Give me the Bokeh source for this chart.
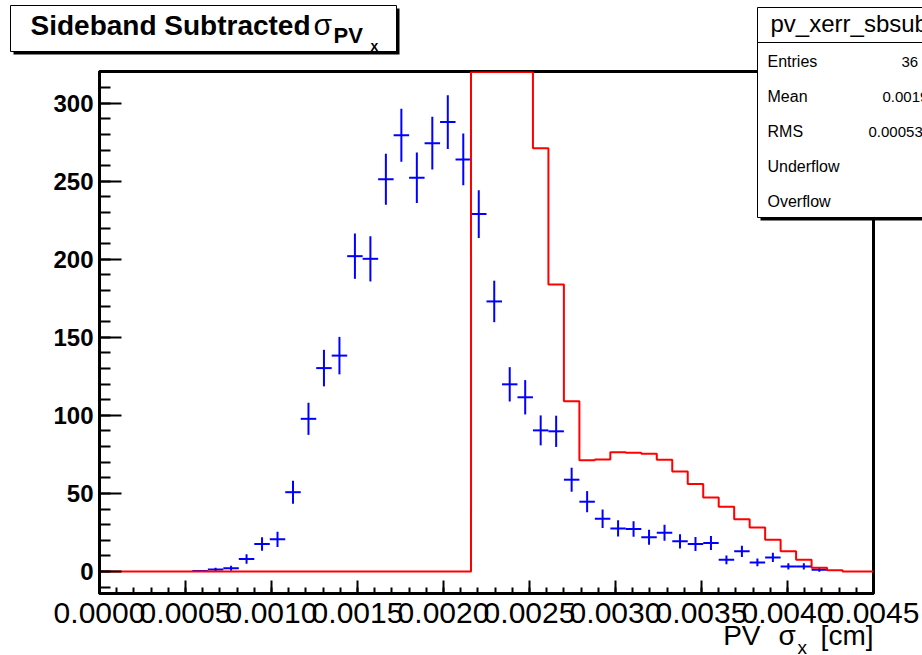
import numpy as np
from bokeh.plotting import figure
from bokeh.models import Range1d, SingleIntervalTicker, PrintfTickFormatter
from bokeh.core.properties import value
from bokeh.embed import file_html
from bokeh.resources import INLINE

# ---------------- data ----------------
x_min, x_max = 0.0, 0.0045
n_bins = 50

# sideband-subtracted histogram (blue points), bin contents and errors
sb_counts = [0, 0, 0, 0, 0, 0, 0.3, 1.2, 2.0, 8.0,
             17.6, 20.6, 50.8, 97.8, 130.3, 138.3, 202.0, 200.3, 251.3, 279.5,
             252.2, 274.4, 287.9, 264.0, 229.0, 173.0, 119.9, 111.6, 90.4, 89.8,
             58.8, 44.7, 33.8, 27.6, 27.2, 22.0, 24.8, 19.3, 17.6, 18.2,
             7.5, 12.9, 5.8, 9.0, 3.2, 3.2, 1.1, 0, 0, 0]
sb_errors = [0, 0, 0, 0, 0, 0, 0.5, 1.2, 1.6, 3.0,
             4.3, 4.9, 7.4, 10.3, 11.7, 12.0, 14.5, 14.5, 16.3, 17.0,
             16.2, 16.9, 17.2, 16.6, 15.3, 13.3, 11.0, 11.0, 9.6, 10.0,
             7.7, 6.8, 5.9, 5.2, 5.0, 4.8, 5.1, 4.6, 4.5, 4.5,
             2.8, 3.6, 2.5, 3.0, 2.0, 2.0, 1.3, 0, 0, 0]
# red reference histogram (bins 24-27 run off the top of the frame: shown at the ceiling)
ref_counts = [0, 0, 0, 0, 0, 0, 0, 0, 0, 0,
              0, 0, 0, 0, 0, 0, 0, 0, 0, 0,
              0, 0, 0, 0, 320, 320, 320, 320, 271.2, 183.9,
              109.1, 71.3, 71.7, 76.4, 76.0, 75.4, 71.6, 64.1, 56.0, 47.4,
              41.4, 33.5, 28.2, 20.3, 13.0, 7.5, 2.4, 0.8, 0, 0]

title_main = "Sideband Subtracted"
hist_name = "pv_xerr_sbsub"
stat_names = ["Entries", "Mean", "RMS", "Underflow", "Overflow"]
stat_values = ["36", "0.0019", "0.00053", "", ""]

# ---------------- figure ----------------
FL, FR, FT, FB = 99, 873, 71, 593   # frame edges in canvas pixels
W, H = 922, 655

p = figure(width=W, height=H, output_backend="svg", toolbar_location=None,
           x_range=Range1d(x_min, x_max + 1e-10), y_range=Range1d(-14.1, 320.3),
           min_border_left=FL, min_border_right=W - FR,
           min_border_top=FT, min_border_bottom=H - FB, title=None)
p.background_fill_color = "white"
p.border_fill_color = "white"
p.grid.visible = False
p.outline_line_color = "black"
p.outline_line_width = 3
# pixel ranges for decorations placed around the frame
p.extra_x_ranges = {"px": Range1d(FL, FR)}
p.extra_y_ranges = {"px": Range1d(FB, FT)}

xa = p.xaxis[0]
xa.ticker = SingleIntervalTicker(interval=0.0005, num_minor_ticks=5)
xa.formatter = PrintfTickFormatter(format="%.4f")
xa.major_tick_in, xa.major_tick_out = 13, 0
xa.minor_tick_in, xa.minor_tick_out = 6, 0
xa.major_tick_line_width = 2
xa.minor_tick_line_width = 2
xa.axis_line_width = 3
xa.major_label_text_font = "Liberation Sans"
xa.major_label_text_font_size = "30px"
xa.major_label_text_color = "black"
xa.major_label_standoff = 9

ya = p.yaxis[0]
ya.ticker = SingleIntervalTicker(interval=50, num_minor_ticks=5)
ya.formatter = PrintfTickFormatter(format="%d")
ya.major_tick_in, ya.major_tick_out = 22, 0
ya.minor_tick_in, ya.minor_tick_out = 11, 0
ya.major_tick_line_width = 2
ya.minor_tick_line_width = 2
ya.axis_line_width = 3
ya.major_label_text_font = "Liberation Sans"
ya.major_label_text_font_size = "24px"
ya.major_label_text_font_style = "bold"
ya.major_label_text_color = "black"
ya.major_label_standoff = 6

# ---------------- marks ----------------
edges = np.linspace(x_min, x_max, n_bins + 1)
centers = 0.5 * (edges[:-1] + edges[1:])
bw = edges[1] - edges[0]
sb = np.array(sb_counts, dtype=float)
se = np.array(sb_errors, dtype=float)
m = sb > 0
p.segment(x0=centers[m] - bw / 2, x1=centers[m] + bw / 2, y0=sb[m], y1=sb[m],
          line_color="#0000ff", line_width=2)
p.segment(x0=centers[m], x1=centers[m], y0=sb[m] - se[m], y1=sb[m] + se[m],
          line_color="#0000ff", line_width=2)

ref = np.array(ref_counts, dtype=float)
p.step(x=edges, y=np.append(ref, ref[-1]), mode="after",
       line_color="#ff0000", line_width=2)

# ---------------- boxes and texts (pixel ranges, overlay level) ----------------
PX = dict(x_range_name="px", y_range_name="px", level="overlay")

def box(l, t, r, b, fill, line=None, lw=1):
    p.quad(left=[l], right=[r], top=[t], bottom=[b], fill_color=fill,
           line_color=line, line_width=lw, line_alpha=1.0 if line else 0.0, **PX)

def label(cx, base, text, size, style="normal", align="left"):
    # base = wanted baseline in canvas pixels
    p.text(x=[cx], y=[base - 0.36 * size], text=[text],
           text_font=value("Liberation Sans"),
           text_font_size=value(f"{size}px"), text_font_style=value(style),
           text_color="black", text_align=value(align),
           text_baseline=value("alphabetic"), **PX)

# title box with shadow
box(13, 8, 399, 54, "black")
box(10, 5, 396, 51, "white", "black", 1)
label(30, 35, title_main, 28, "bold")
label(313, 35, "σ", 30)
label(333, 43, "PV", 22, "bold")
label(370, 51, "x", 14, "bold")

# stats box with shadow
box(760, 10, 935, 220, "black")
box(757, 7, 932, 217, "white", "black", 1)
box(757, 41.5, 932, 42.5, "black")
label(770, 32, hist_name, 24)
rows_y = [67, 102, 137, 172, 207]
val_x = [901, 882, 868, 922, 922]
for name, val, ry, vx in zip(stat_names, stat_values, rows_y, val_x):
    label(767, ry, name, 16)
    if val:
        label(vx, ry, val, 15)

# x axis title
label(760, 645, "PV", 28, align="right")
label(778, 645, "σ", 28)
label(797, 654, "x", 19)
label(873, 645, "[cm]", 28, align="right")

open("out.html", "w").write(file_html(p, INLINE))
